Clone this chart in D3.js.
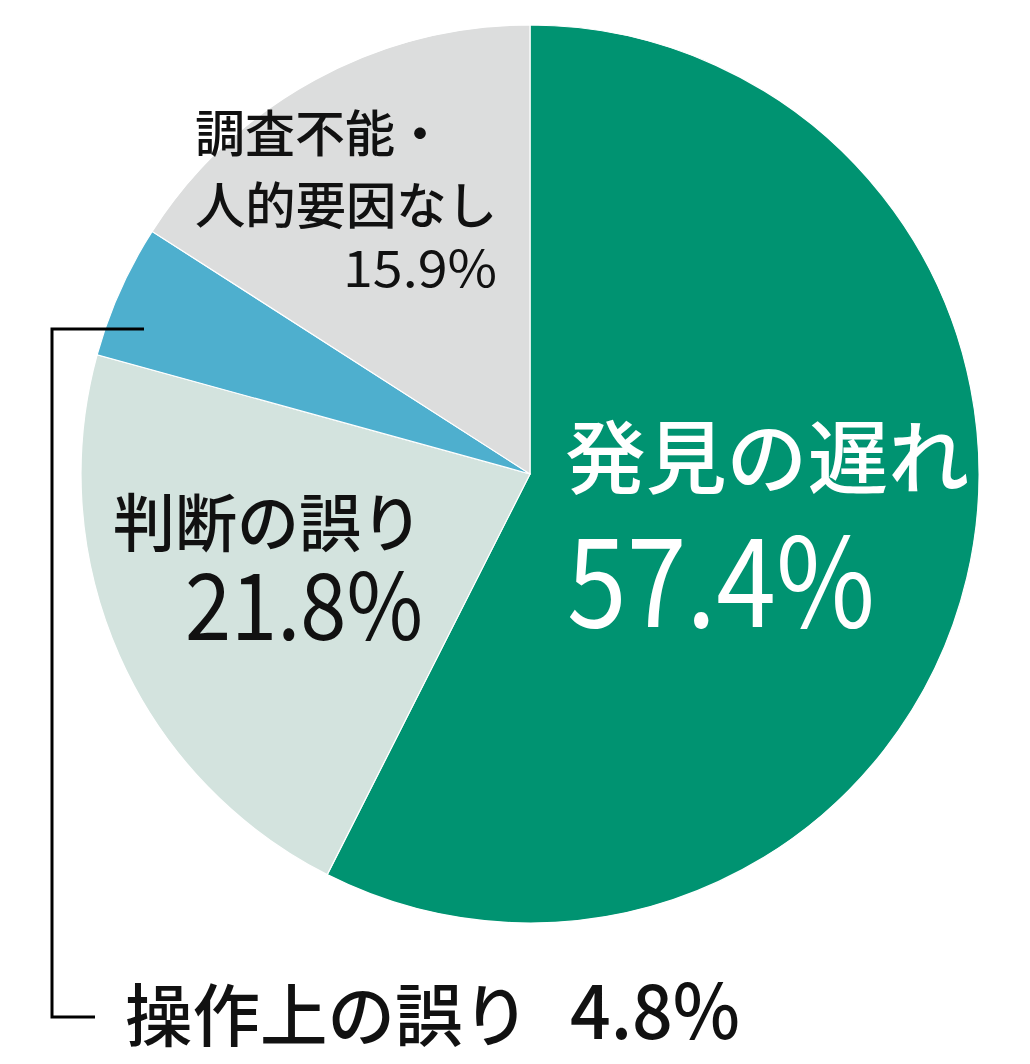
<!DOCTYPE html>
<html><head><meta charset="utf-8">
<script src="https://cdn.jsdelivr.net/npm/d3@7"></script>
<style>
html,body{margin:0;padding:0;background:#fff;}
svg{display:block;}
text{font-family:"Noto Sans CJK JP","Noto Sans",sans-serif;}
</style></head>
<body>
<svg id="chart" width="1030" height="1064"></svg>
<script>
const categories = ["発見の遅れ", "判断の誤り", "操作上の誤り", "調査不能・人的要因なし"];
const values = [57.4, 21.8, 4.8, 15.9];
const valueLabels = ["57.4%", "21.8%", "4.8%", "15.9%"];
const colors = ["#009371", "#d3e3de", "#4eafce", "#dcdddd"];

const svg = d3.select("#chart");
const cx = 530, cy = 474, R = 449;

const pie = d3.pie().sort(null).value(d => d.v).startAngle(0).endAngle(2 * Math.PI);
const arc = d3.arc().innerRadius(0).outerRadius(R);
const data = categories.map((c, i) => ({c, v: values[i], col: colors[i]}));
const arcs = pie(data);

const g = svg.append("g").attr("transform", `translate(${cx},${cy})`);
g.selectAll("path").data(arcs).join("path")
  .attr("d", arc)
  .attr("fill", d => d.data.col)
  .attr("stroke", "#ffffff")
  .attr("stroke-width", 1.2);

// leader line for small slice
svg.append("path")
  .attr("d", "M144,329 H52 V1017 H95")
  .attr("fill", "none")
  .attr("stroke", "#000")
  .attr("stroke-width", 3);

function txt(x, y, s, size, fill, len, anchor, weight) {
  const t = svg.append("text").attr("x", x).attr("y", y)
    .attr("font-size", size).attr("fill", fill)
    .attr("font-weight", weight || 500)
    .attr("text-anchor", anchor || "start").text(s);
  if (len) t.attr("textLength", len).attr("lengthAdjust", "spacingAndGlyphs");
  return t;
}

// 発見の遅れ
txt(565, 487, categories[0], 80, "#fff", 404);
txt(567, 627, valueLabels[0], 123, "#fff", 308, "start", 400);
// 判断の誤り
txt(113, 546, categories[1], 63, "#111", 310);
txt(185, 640, valueLabels[1], 92, "#111", 238, "start", 400);
// 調査不能・人的要因なし
txt(195, 152, "調査不能・", 50, "#111");
txt(195, 224, "人的要因なし", 50, "#111", 302);
txt(497, 287, valueLabels[3], 51, "#111", 154, "end", 400);
// 操作上の誤り
txt(125, 1041, categories[2], 68, "#111", 405, "start", 500);
txt(570, 1039, valueLabels[2], 76, "#111", 170, "start", 500);
</script>
</body></html>
